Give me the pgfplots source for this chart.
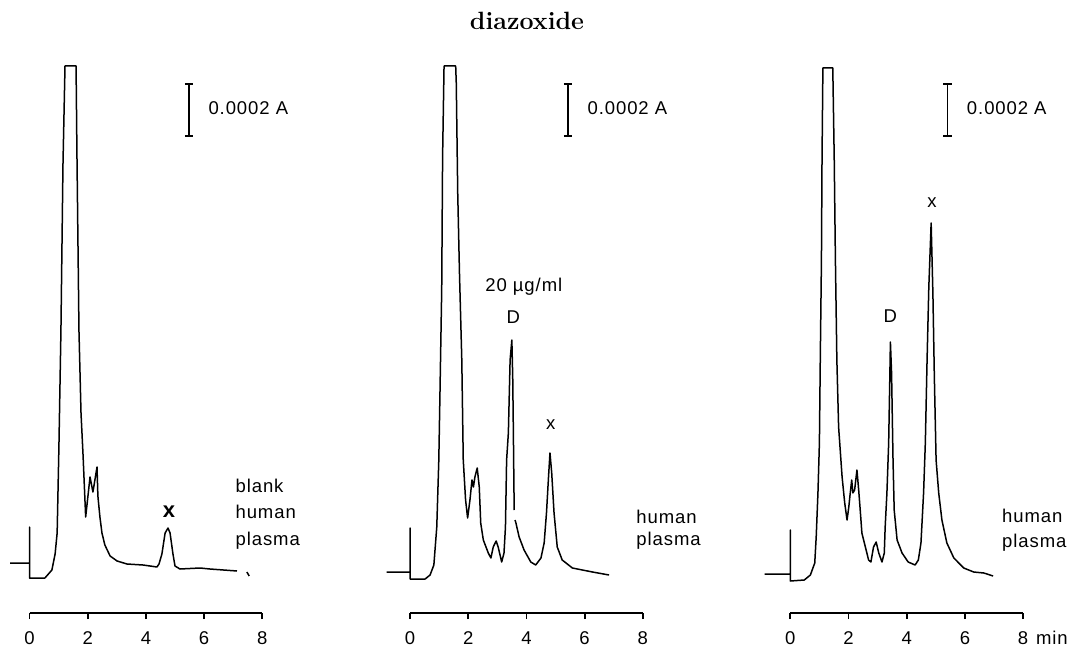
\documentclass[border=0pt]{standalone}
\usepackage{pgfplots}
\pgfplotsset{compat=1.18}
\usepackage{fontspec}
\newfontfamily\labfam[LetterSpace=5]{Liberation Sans}
\newcommand\lab{\labfam\fontsize{18.5}{22}\selectfont}

\pgfplotsset{
  chrom/.style={
    x=29.1pt, y=1pt, xmin=0, xmax=8, ymin=0, ymax=560,
    anchor=south west, clip=false,
    axis x line=bottom, axis y line=none, ytick=\empty,
    x axis line style={-, line width=2.4pt},
    xtick={0,2,4,6,8}, tick align=outside, major tick length=6pt,
    every tick/.style={black, line width=1.8pt},
    xticklabel style={font=\lab, yshift=-9pt},
    /pgf/number format/assume math mode=true,
  },
  trace/.style={black, line width=1.5pt, line join=round, no marks},
}

% scale bar: x position (min)
\newcommand\scalebar[1]{%
  \draw[line width=1.1pt] (axis cs:#1,477) -- (axis cs:#1,529);
  \draw[line width=1.1pt] (axis cs:#1-0.14,529) -- (axis cs:#1+0.14,529);
  \draw[line width=1.1pt] (axis cs:#1-0.14,477) -- (axis cs:#1+0.14,477);
  \node[font=\lab, anchor=west] at (axis cs:#1+0.55,505) {0.0002 A};
}

\begin{document}
\begin{tikzpicture}
\path[use as bounding box] (0,0) rectangle (1077pt,649pt);

% blank human plasma
\begin{axis}[chrom, at={(29.5pt,36pt)}]
\addplot[trace] coordinates {
 (-0.67,50) (0,50) (0,86) (0,35) (0.53,35) (0.77,43) (0.88,59) (0.95,80)
 (1.01,165) (1.08,282) (1.15,448) (1.22,547) (1.60,547) (1.63,460)
 (1.70,282) (1.77,200) (1.84,158) (1.93,96) (2.08,136) (2.18,121)
 (2.32,146) (2.35,117) (2.42,96) (2.49,80) (2.59,68) (2.77,57) (3.01,52)
 (3.35,49) (3.90,48) (4.38,46) (4.45,49) (4.55,59) (4.66,80) (4.76,85)
 (4.83,80) (4.93,59) (5.00,47) (5.17,44) (5.86,45) (6.20,44) (7.13,42)
};
\addplot[trace] coordinates {(7.47,41) (7.55,37)};
\scalebar{5.48}
\node[font=\labfam\fontsize{22}{24}\selectfont\bfseries] at (axis cs:4.79,101) {x};
\node[font=\lab, anchor=base west] at (axis cs:6.96,121) {blank};
\node[font=\lab, anchor=base west] at (axis cs:6.96,95) {human};
\node[font=\lab, anchor=base west] at (axis cs:6.96,68) {plasma};
\end{axis}

% human plasma, 20 ug/ml
\begin{axis}[chrom, at={(410pt,36pt)}, unbounded coords=jump]
\addplot[trace] coordinates {
 (-0.80,41) (0,41) (0,85) (0,34) (0.52,34) (0.69,38) (0.82,48) (0.92,86)
 (0.99,153) (1.03,220) (1.09,324) (1.12,456) (1.17,547) (1.57,547)
 (1.59,530) (1.64,420) (1.70,340) (1.78,253) (1.83,153) (1.91,113)
 (1.98,95) (2.06,113) (2.13,133) (2.18,126) (2.23,136) (2.31,145)
 (2.38,126) (2.43,90) (2.52,73) (2.69,60) (2.78,55) (2.86,66) (2.96,72)
 (3.03,66) (3.15,51) (3.23,60) (3.28,86) (3.32,153) (3.38,180) (3.44,253)
 (3.50,273) (3.53,236) (3.55,186) (3.58,103) (3.59,nan) (3.61,93)
 (3.64,90) (3.75,76) (3.92,63) (4.15,51) (4.32,48) (4.50,55) (4.61,70)
 (4.69,100) (4.76,136) (4.81,160) (4.87,140) (4.95,100) (5.06,66)
 (5.23,53) (5.58,45) (6.27,41) (6.84,38)
};
\scalebar{5.43}
\node[font=\lab] at (axis cs:3.91,326) {20 µg/ml};
\node[font=\lab] at (axis cs:3.55,296) {D};
\node[font=\lab] at (axis cs:4.84,188) {x};
\node[font=\lab, anchor=base west] at (axis cs:7.66,90) {human};
\node[font=\lab, anchor=base west] at (axis cs:7.66,68) {plasma};
\end{axis}

% human plasma
\begin{axis}[chrom, at={(790.3pt,36pt)}]
\addplot[trace] coordinates {
 (-0.88,39) (0,39) (0,83) (0,32) (0.48,33) (0.69,38) (0.84,50) (0.89,76)
 (0.95,120) (1.00,170) (1.03,253) (1.07,353) (1.09,453) (1.12,545)
 (1.46,545) (1.51,453) (1.55,353) (1.60,253) (1.66,186) (1.72,161)
 (1.78,136) (1.87,110) (1.95,93) (2.01,106) (2.06,120) (2.11,133)
 (2.15,120) (2.21,123) (2.29,143) (2.35,123) (2.41,100) (2.46,80)
 (2.58,66) (2.69,53) (2.77,51) (2.86,66) (2.95,71) (3.04,60) (3.15,51)
 (3.23,60) (3.26,86) (3.32,120) (3.38,170) (3.42,236) (3.44,271)
 (3.48,240) (3.53,153) (3.57,103) (3.67,73) (3.84,60) (4.05,51) (4.29,48)
 (4.40,53) (4.49,70) (4.58,120) (4.64,170) (4.70,253) (4.76,326)
 (4.84,390) (4.90,320) (4.95,236) (5.01,153) (5.10,120) (5.21,93)
 (5.38,70) (5.62,55) (5.96,45) (6.30,41) (6.65,40) (6.97,37)
};
\scalebar{5.40}
\node[font=\lab] at (axis cs:3.44,297) {D};
\node[font=\lab] at (axis cs:4.87,410) {x};
\node[font=\lab, anchor=base west] at (axis cs:7.16,91) {human};
\node[font=\lab, anchor=base west] at (axis cs:7.16,66) {plasma};
\node[font=\lab, anchor=north, yshift=-15pt] at (axis cs:8.99,0) {min};
\end{axis}

\node[font=\fontsize{25}{28}\selectfont\bfseries] at (527pt,628pt) {diazoxide};
\end{tikzpicture}
\end{document}
